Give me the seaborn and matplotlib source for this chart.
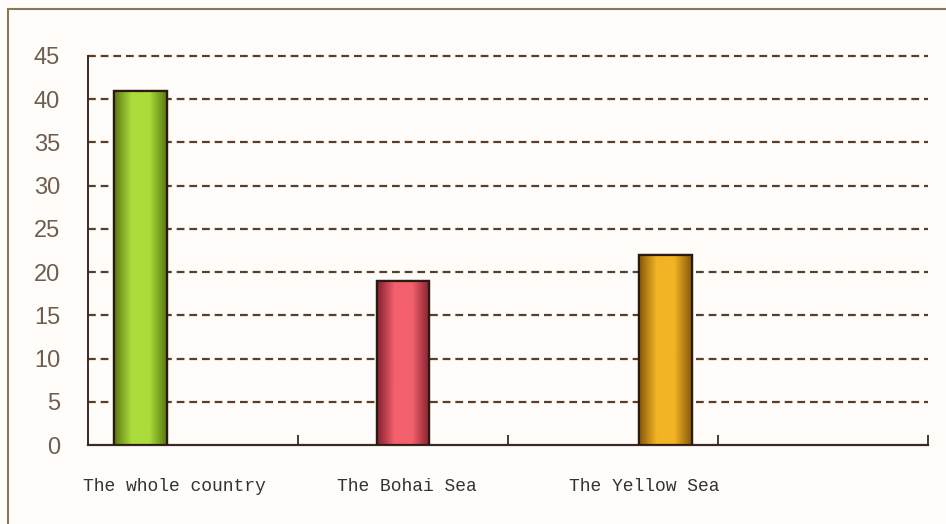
import numpy as np
import pandas as pd
import matplotlib
matplotlib.use("Agg")
import matplotlib.pyplot as plt
import seaborn as sns
from matplotlib.colors import LinearSegmentedColormap
from matplotlib.patches import Rectangle

# ---- data ----
categories = ["c1", "c2", "c3", "c4"]
series = ["The whole country", "The Bohai Sea", "The Yellow Sea"]
values = [41, 19, 22]
series_category = ["c1", "c2", "c3"]
yticks = [0, 5, 10, 15, 20, 25, 30, 35, 40, 45]

# gradient colours (edge, centre) per series
grad_edge = ["#587810", "#82202e", "#86580a"]
grad_mid = ["#acdc3c", "#f4606e", "#f2b424"]

df = pd.DataFrame({"category": series_category, "series": series, "value": values})

sns.set_theme(style="white")
plt.rcParams["font.family"] = ["Liberation Sans", "DejaVu Sans"]

fig = plt.figure(figsize=(9.46, 5.24), dpi=100)
fig.patch.set_facecolor("#fffcfa")
ax = fig.add_axes([88 / 946, 1 - 445 / 524, (928 - 88) / 946, (445 - 56) / 524])
ax.set_facecolor("#fffcfa")

sns.barplot(data=df, x="category", y="value", hue="series", order=categories,
            hue_order=series, palette=grad_mid, width=0.75, dodge=True,
            edgecolor="#2a1a10", linewidth=1.6, legend=False, ax=ax, zorder=3)

# gradient fill inside each bar
for i, patch in enumerate([p for p in ax.patches if p.get_height() > 0]):
    x0, y0 = patch.get_x(), patch.get_y()
    w, h = patch.get_width(), patch.get_height()
    cmap = LinearSegmentedColormap.from_list(
        "g", [grad_edge[i], grad_mid[i], grad_mid[i], grad_edge[i]],)
    grad = np.linspace(0, 1, 256).reshape(1, -1)
    im = ax.imshow(grad, cmap=cmap, aspect="auto", extent=(x0, x0 + w, y0, y0 + h),
                   zorder=3.5)
    im.set_clip_path(patch)
    r = Rectangle((x0, y0), w, h, fill=False, edgecolor="#2a1a10", lw=1.6, zorder=4)
    ax.add_patch(r)

ax.set_xlim(-0.5, 3.5)
ax.set_ylim(0, 45)
ax.set_yticks(yticks)
ax.set_yticklabels([str(t) for t in yticks], fontsize=17, color="#6e5e50")
ax.tick_params(axis="y", length=0, pad=20)

ax.set_xticks([-0.5, 0.5, 1.5, 2.5, 3.5])
ax.set_xticklabels([])
ax.tick_params(axis="x", direction="in", length=7, width=1.3, color="#3a2a22", bottom=True)

for y in yticks[1:]:
    ax.axhline(y, color="#5a3f28", lw=1.6, ls=(0, (3.5, 2.2)), zorder=1, clip_on=False)

for s in ["top", "right"]:
    ax.spines[s].set_visible(False)
ax.spines["left"].set_color("#3a2a22")
ax.spines["left"].set_linewidth(1.4)
ax.spines["bottom"].set_color("#3a2a22")
ax.spines["bottom"].set_linewidth(1.6)
ax.set_xlabel("")
ax.set_ylabel("")

# category labels beneath
label_x = [-0.09, 1.02, 2.15]
for lx, name in zip(label_x, series):
    ax.text(lx, -4.8, name, ha="center", va="center", fontsize=13,
            family=["Liberation Mono", "DejaVu Sans Mono"], color="#333333",
            clip_on=False)

# outer frame (top & left visible)
fig.add_artist(Rectangle((8 / 946, -0.1), 1.2, 1 - 9 / 524 + 0.1, transform=fig.transFigure,
                         fill=False, edgecolor="#8c7458", lw=1.5))

fig.savefig("out.png", dpi=100, facecolor=fig.get_facecolor())
